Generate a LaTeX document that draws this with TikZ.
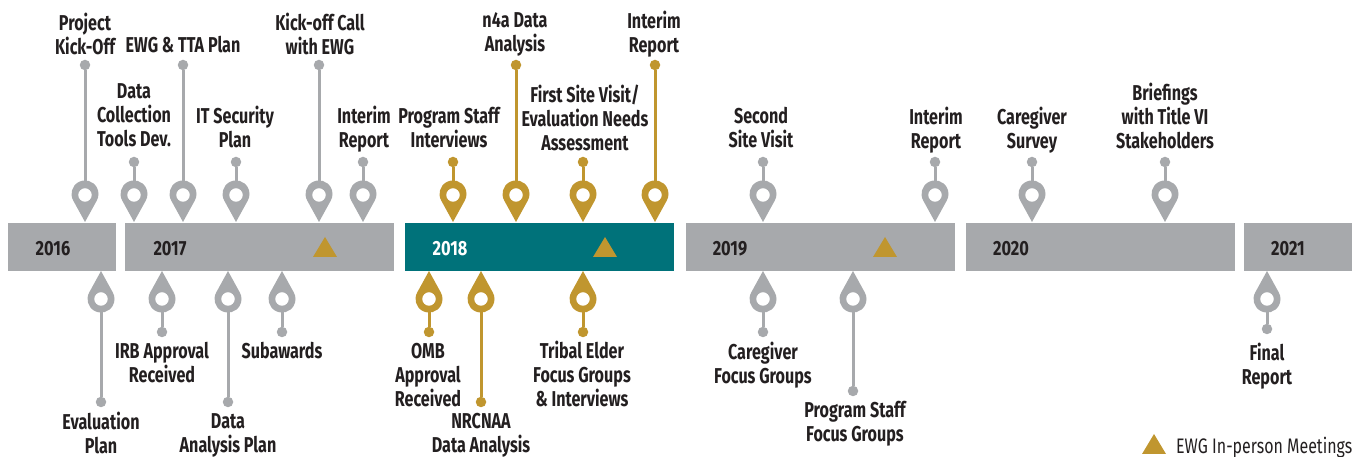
\documentclass[tikz,border=0pt]{standalone}
\usepackage{fontspec}
\setmainfont[FakeStretch=0.75,Ligatures=Common]{Fira Sans}
\newfontfamily\legendfont[FakeStretch=0.76]{Fira Sans}
\newfontfamily\yearfont[FakeStretch=0.80]{Fira Sans}
\definecolor{grayc}{HTML}{A7A9AC}
\definecolor{tealc}{HTML}{00727A}
\definecolor{goldc}{HTML}{C0962F}
\definecolor{inkc}{HTML}{231F20}
\newcommand\lstrut{\vrule height 16pt depth 4pt width 0pt\relax}
\tikzset{
  lab/.style={text=inkc,inner sep=0pt,align=center,font=\fontsize{21.5}{24}\selectfont\bfseries},
  yearlab/.style={inner sep=0pt,font=\yearfont\fontsize{20.5}{22}\selectfont\bfseries},
  dotn/.style={circle,inner sep=0pt,minimum size=10.5pt},
  stem/.style={line width=3pt},
}
% x-pixel, y-pixel (from top) converted to picture coordinates
\newcommand\pinup[4]{% name, x, dot y, colour
  \coordinate (#1h) at (#2,{457-183});
  \node[dotn,fill=#4] (#1d) at (#2,{457-#3}) {};
  \draw[stem,draw=#4] (#1d) -- (#1h);
  \fill[#4,even odd rule] (#2,{457-222})
     -- ({#2-11.8},{457-200.5})
     arc[start angle=209,end angle=-29,radius=13.5]
     -- cycle
     (#2,{457-195}) circle[radius=6.8];
}
\newcommand\pindown[4]{%
  \coordinate (#1h) at (#2,{457-310});
  \node[dotn,fill=#4] (#1d) at (#2,{457-#3}) {};
  \draw[stem,draw=#4] (#1d) -- (#1h);
  \fill[#4,even odd rule] (#2,{457-271})
     -- ({#2-11.8},{457-292.5})
     arc[start angle=151,end angle=389,radius=13.5]
     -- cycle
     (#2,{457-299}) circle[radius=6.8];
}
\newcommand\labl[4]{% name, x, centre y, text
  \node[lab] (#1) at (#2,{457-#3-1.8}) {\lstrut #4\lstrut};
}
\newcommand\barr[4]{% name, x1, x2, colour
  \fill[#4] (#2,{457-223}) rectangle (#3,{457-271});
}
\newcommand\trin[2]{% x centre, bottom y
  \fill[goldc] ({#1-12},{457-#2}) -- ({#1+12},{457-#2}) -- (#1,{457-#2+20}) -- cycle;
}
\begin{document}
\begin{tikzpicture}[x=1pt,y=1pt]
\useasboundingbox (0,0) rectangle (1361,457);
\barr{b16}{8}{116}{grayc}
\barr{b17}{125}{394}{grayc}
\barr{b18}{405}{674}{tealc}
\barr{b19}{686}{955}{grayc}
\barr{b20}{966}{1235}{grayc}
\barr{b21}{1244}{1352}{grayc}
\trin{325}{257}\trin{605}{257}\trin{885}{257}\trin{1154}{454}
\node[yearlab,text=inkc] (y16) at (53,{457-249}) {2016};
\node[yearlab,text=inkc] (y17) at (170,{457-249}) {2017};
\node[yearlab,text=white] (y18) at (450,{457-249}) {2018};
\node[yearlab,text=inkc] (y19) at (730,{457-249}) {2019};
\node[yearlab,text=inkc] (y20) at (1011,{457-249}) {2020};
\node[yearlab,text=inkc] (y21) at (1288,{457-249}) {2021};
% top pins
\pinup{a}{85}{65}{grayc}
\pinup{b}{134}{162}{grayc}
\pinup{c}{183}{65}{grayc}
\pinup{d}{236}{162}{grayc}
\pinup{e}{319}{65}{grayc}
\pinup{f}{363}{162}{grayc}
\pinup{g}{453}{162}{goldc}
\pinup{h}{516}{65}{goldc}
\pinup{i}{583}{162}{goldc}
\pinup{j}{655}{65}{goldc}
\pinup{k}{763}{162}{grayc}
\pinup{l}{935}{162}{grayc}
\pinup{m}{1032}{162}{grayc}
\pinup{n}{1165}{162}{grayc}
% bottom pins
\pindown{o}{101}{402}{grayc}
\pindown{p}{162}{332}{grayc}
\pindown{q}{228}{402}{grayc}
\pindown{r}{282}{332}{grayc}
\pindown{s}{429}{332}{goldc}
\pindown{t}{481}{402}{goldc}
\pindown{u}{583}{332}{goldc}
\pindown{v}{763}{332}{grayc}
\pindown{w}{853}{391}{grayc}
\pindown{x}{1267}{329}{grayc}
% labels
\labl{la}{85}{34}{Project\\Kick-Off}
\labl{lb}{134}{115}{Data\\Collection\\Tools Dev.}
\labl{lc}{183}{45}{EWG \& TTA Plan}
\labl{ld}{235}{127}{IT Security\\Plan}
\labl{le}{320}{34}{Kick-off Call\\with EWG}
\labl{lf}{364}{127}{Interim\\Report}
\labl{lg}{449}{128}{Program Staff\\Interviews}
\labl{lh}{515}{32}{n4a Data\\Analysis}
\labl{li}{585}{118}{First Site Visit/\\Evaluation Needs\\Assessment}
\labl{lj}{654}{32}{Interim\\Report}
\labl{lk}{761}{128}{Second\\Site Visit}
\labl{ll}{936}{128}{Interim\\Report}
\labl{lm}{1032}{128}{Caregiver\\Survey}
\labl{ln}{1165}{116}{Briefings\\with Title VI\\Stakeholders}
\labl{lo}{101}{433}{Evaluation\\Plan}
\labl{lp}{162}{363}{IRB Approval\\Received}
\labl{lq}{228}{433}{Data\\Analysis Plan}
\labl{lr}{282}{351}{Subawards}
\labl{ls}{428}{375}{OMB\\Approval\\Received}
\labl{lt}{481}{433}{NRCNAA\\Data Analysis}
\labl{lu}{582}{374}{Tribal Elder\\Focus Groups\\\& Interviews}
\labl{lv}{763}{363}{Caregiver\\Focus Groups}
\labl{lw}{855}{422}{Program Staff\\Focus Groups}
\labl{lx}{1267}{364}{Final\\Report}
\node[text=inkc,inner sep=0pt,anchor=base west,font=\legendfont\fontsize{21}{22}\selectfont] (leg) at (1176,{457-454}) {EWG In-person Meetings};
\end{tikzpicture}
\end{document}
